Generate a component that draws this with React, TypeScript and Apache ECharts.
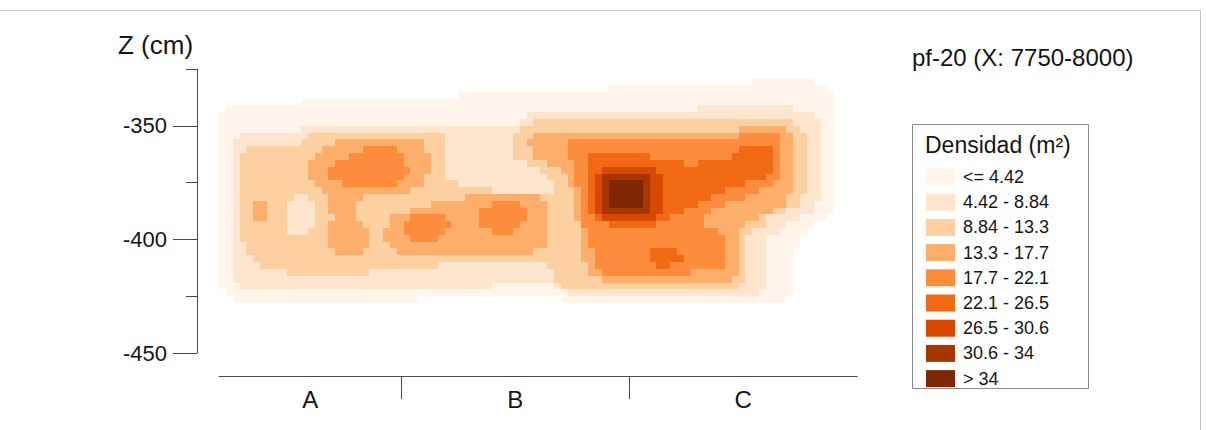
import { useEffect, useRef } from 'react';
import * as echarts from 'echarts';

// ---------------- data ----------------
// Density class read from the map on a 3 cm x 3 cm grid.
// Each row is run-length coded as "class:cellCount" (class 0 = no data).
// Columns start at X = 7720 cm, rows start at Z = -326 cm and go downward.
const GRID_X0 = 7720;
const GRID_Z0 = -326;
const CELL_CM = 3;
const densityRows: string[] = [
  '0:92',
  '0:78 1:9 0:5',
  '0:57 1:32 0:3',
  '0:35 1:55 0:2',
  '0:12 1:78 0:2',
  '0:1 1:69 2:14 1:6 0:2',
  '1:45 2:42 1:3 0:2',
  '1:44 2:2 3:38 2:4 1:2 0:2',
  '1:12 2:32 3:32 4:7 3:2 2:3 1:2 0:2',
  '1:3 2:10 3:20 2:10 3:3 4:30 5:6 4:2 3:2 2:2 1:2 0:2',
  '1:2 2:10 3:5 4:13 3:3 2:10 3:2 4:6 5:31 4:2 3:2 2:2 1:2 0:2',
  '1:2 2:2 3:11 4:6 5:5 4:4 3:3 2:10 3:3 4:5 5:25 6:5 5:1 4:2 3:2 2:2 1:2 0:2',
  '1:2 2:1 3:11 4:5 5:8 4:4 3:2 2:10 3:3 4:5 5:3 6:9 5:12 6:6 5:1 4:2 3:2 2:2 1:2 0:2',
  '1:2 2:1 3:10 4:4 5:10 4:4 3:2 2:12 3:3 4:4 5:2 6:14 5:2 6:11 5:1 4:2 3:2 2:2 1:2 0:2',
  '1:2 2:1 3:10 4:3 5:12 4:3 3:2 2:14 3:3 4:2 5:2 6:2 7:8 6:17 5:1 4:2 3:2 2:2 1:2 0:2',
  '1:2 2:1 3:10 4:3 5:11 4:3 3:3 2:15 3:3 4:1 5:2 6:1 7:1 8:7 7:2 6:15 5:2 4:2 3:2 2:2 1:2 0:2',
  '1:2 2:1 3:11 4:4 5:8 4:4 3:5 2:14 3:2 4:1 5:2 6:1 7:1 8:1 9:5 8:1 7:2 6:12 5:4 4:3 3:2 2:2 1:2 0:2',
  '1:2 2:1 3:12 4:13 3:12 2:9 3:3 4:1 5:1 6:1 7:1 8:1 9:5 8:1 7:2 6:9 5:5 4:5 3:2 2:2 1:2 0:2',
  '1:2 2:1 3:8 2:2 3:3 4:5 3:15 4:11 3:5 4:1 5:1 6:1 7:1 8:1 9:5 8:1 7:2 6:7 5:5 4:6 3:2 2:3 1:2 0:2',
  '1:2 2:1 3:2 4:2 3:3 2:4 3:2 4:4 3:11 4:9 5:4 4:4 3:4 4:1 5:1 6:1 7:1 8:1 9:5 8:1 7:2 6:5 5:4 4:9 3:2 2:2 1:3 0:2',
  '1:2 2:1 3:2 4:2 3:3 2:4 3:2 4:4 3:8 4:10 5:7 4:3 3:4 4:1 5:1 6:1 7:1 8:7 7:2 6:3 5:4 4:9 3:2 2:4 1:3 0:2',
  '1:2 2:1 3:2 4:2 3:3 2:4 3:3 4:3 3:5 4:3 5:5 4:5 5:7 4:3 3:4 4:1 5:2 6:1 7:8 6:2 5:5 4:8 3:1 2:5 1:4 0:3',
  '1:2 2:1 3:7 2:4 3:2 4:5 3:4 4:2 5:7 4:4 5:6 4:4 3:5 5:4 6:7 5:7 4:6 3:3 2:3 1:4 0:5',
  '1:2 2:1 3:7 2:3 3:3 4:6 3:2 4:3 5:6 4:7 5:3 4:5 3:5 4:1 5:19 4:3 3:2 2:4 1:4 0:6',
  '1:2 2:1 3:13 4:6 3:2 4:4 5:4 4:16 3:5 4:1 5:20 4:2 3:1 2:3 1:5 0:7',
  '1:2 2:2 3:12 4:6 3:3 4:23 3:5 4:1 5:20 4:2 3:1 2:3 1:5 0:7',
  '1:2 2:2 3:13 4:4 3:5 4:20 3:7 4:2 5:8 6:4 5:7 4:2 3:1 2:3 1:4 0:8',
  '1:2 2:3 3:48 4:2 5:8 6:5 5:6 4:2 3:1 2:3 1:4 0:8',
  '1:2 2:4 3:26 2:16 3:6 4:1 5:9 6:2 5:8 4:2 3:1 2:3 1:4 0:8',
  '1:2 2:8 3:12 2:27 3:5 4:2 5:13 4:7 3:1 2:3 1:4 0:8',
  '1:2 2:47 3:7 4:19 3:2 2:3 1:4 0:8',
  '1:3 2:37 1:9 2:1 3:26 2:4 1:4 0:8',
  '0:1 1:50 2:28 1:5 0:8',
  '0:2 1:27 0:21 1:33 0:9',
];

const classLabels = [
  '<= 4.42',
  '4.42 - 8.84',
  '8.84 - 13.3',
  '13.3 - 17.7',
  '17.7 - 22.1',
  '22.1 - 26.5',
  '26.5 - 30.6',
  '30.6 - 34',
  '> 34',
];
const classColors = [
  '#fff5eb',
  '#fee6ce',
  '#fdd0a2',
  '#fdae6b',
  '#fd8d3c',
  '#f16913',
  '#d94801',
  '#a63603',
  '#7f2704',
];

const squareLabels = ['A', 'B', 'C'];
const squareCenters = [7760, 7850, 7950];
const squareBounds = [7800, 7900];
const zMajorTicks = [-450, -400, -350];
const zMinorTicks = [-425, -375, -325];

const chartTitle = 'pf-20 (X: 7750-8000)';
const legendTitle = 'Densidad (m²)';
const zAxisTitle = 'Z (cm)';

// ---------------- build cells (runs of equal class) ----------------
type Cell = [number, number, number, number, number];
function buildCells(): Cell[] {
  const out: Cell[] = [];
  densityRows.forEach((row, r) => {
    let col = 0;
    row
      .trim()
      .split(/\s+/)
      .forEach((tok) => {
        const [lv, cnt] = tok.split(':').map(Number);
        if (lv > 0) {
          const x0 = GRID_X0 + col * CELL_CM;
          const x1 = x0 + cnt * CELL_CM;
          const zTop = GRID_Z0 - r * CELL_CM;
          const zBot = zTop - CELL_CM;
          out.push([x0, x1, zTop, zBot, lv]);
        }
        col += cnt;
      });
  });
  return out;
}

const FONT = "'Liberation Sans', Arial, Helvetica, sans-serif";
const TEXT = '#151515';
const AXIS = '#4a4a4a';

export default function App() {
  const ref = useRef<HTMLDivElement>(null);

  useEffect(() => {
    if (!ref.current) return;
    const chart = echarts.init(ref.current, undefined, { renderer: 'svg' });
    const cells = buildCells();

    const option: any = {
      animation: false,
      backgroundColor: '#ffffff',
      grid: { left: 219, right: 349, top: 69, bottom: 77 },
      xAxis: {
        type: 'value',
        min: 7720,
        max: 8000,
        position: 'bottom',
        offset: 23,
        axisLine: { show: true, lineStyle: { color: AXIS, width: 1 } },
        axisTick: {
          show: true,
          length: 23,
          customValues: squareBounds,
          lineStyle: { color: AXIS, width: 1 },
        },
        axisLabel: {
          show: true,
          customValues: squareCenters,
          margin: 11,
          fontSize: 24,
          fontFamily: FONT,
          color: TEXT,
          formatter: (v: number) => {
            const i = squareCenters.indexOf(v);
            return i >= 0 ? squareLabels[i] : '';
          },
        },
        splitLine: { show: false },
      },
      yAxis: [
        {
          type: 'value',
          min: -450,
          max: -325,
          position: 'left',
          offset: 22,
          axisLine: { show: true, lineStyle: { color: AXIS, width: 1 } },
          axisTick: {
            show: true,
            length: 24,
            customValues: zMajorTicks,
            lineStyle: { color: AXIS, width: 1 },
          },
          axisLabel: {
            show: true,
            customValues: zMajorTicks,
            margin: 30,
            fontSize: 22,
            fontFamily: FONT,
            color: TEXT,
          },
          splitLine: { show: false },
        },
        {
          type: 'value',
          min: -450,
          max: -325,
          position: 'left',
          offset: 22,
          axisLine: { show: false },
          axisTick: {
            show: true,
            length: 11,
            customValues: zMinorTicks,
            lineStyle: { color: AXIS, width: 1 },
          },
          axisLabel: { show: false },
          splitLine: { show: false },
        },
      ],
      visualMap: {
        type: 'piecewise',
        seriesIndex: 0,
        dimension: 4,
        orient: 'vertical',
        left: 926,
        top: 168,
        padding: 0,
        borderWidth: 0,
        itemWidth: 29,
        itemHeight: 17,
        itemGap: 7.2,
        itemSymbol: 'rect',
        textGap: 8,
        align: 'left',
        inverse: true,
        hoverLink: false,
        selectedMode: false,
        textStyle: { fontSize: 18, fontFamily: FONT, color: TEXT },
        pieces: classLabels.map((label, i) => ({
          value: i + 1,
          label,
          color: classColors[i],
        })),
      },
      graphic: [
        {
          type: 'line',
          silent: true,
          shape: { x1: 0, y1: 10.5, x2: 1200.5, y2: 10.5 },
          style: { stroke: '#c4c4c4', lineWidth: 1 },
        },
        {
          type: 'line',
          silent: true,
          shape: { x1: 1200.5, y1: 10.5, x2: 1200.5, y2: 430 },
          style: { stroke: '#c4c4c4', lineWidth: 1 },
        },
        {
          type: 'rect',
          silent: true,
          z: 10,
          shape: { x: 912.5, y: 124.5, width: 176, height: 264 },
          style: { fill: 'none', stroke: '#8a8a8a', lineWidth: 1 },
        },
        {
          type: 'text',
          z: 10,
          left: 118,
          top: 32,
          style: { text: zAxisTitle, fontSize: 26, fontFamily: FONT, fill: TEXT },
        },
        {
          type: 'text',
          z: 10,
          left: 912,
          top: 45,
          style: { text: chartTitle, fontSize: 24, fontFamily: FONT, fill: TEXT },
        },
        {
          type: 'text',
          z: 10,
          left: 925,
          top: 133,
          style: { text: legendTitle, fontSize: 23, fontFamily: FONT, fill: TEXT },
        },
      ],
      series: [
        {
          type: 'custom',
          silent: true,
          clip: true,
          encode: { x: [0, 1], y: [2, 3] },
          data: cells,
          renderItem: (_params: any, api: any) => {
            const p0 = api.coord([api.value(0), api.value(2)]);
            const p1 = api.coord([api.value(1), api.value(3)]);
            const x = Math.round(p0[0]);
            const y = Math.round(p0[1]);
            const x2 = Math.round(p1[0]);
            const y2 = Math.round(p1[1]);
            return {
              type: 'rect',
              shape: { x, y, width: x2 - x, height: y2 - y },
              style: { fill: api.visual('color') },
            };
          },
        },
      ],
    };

    chart.setOption(option);
    return () => chart.dispose();
  }, []);

  return (
    <div
      ref={ref}
      style={{ position: 'absolute', left: 0, top: 0, width: 1206, height: 430, background: '#fff' }}
    />
  );
}
